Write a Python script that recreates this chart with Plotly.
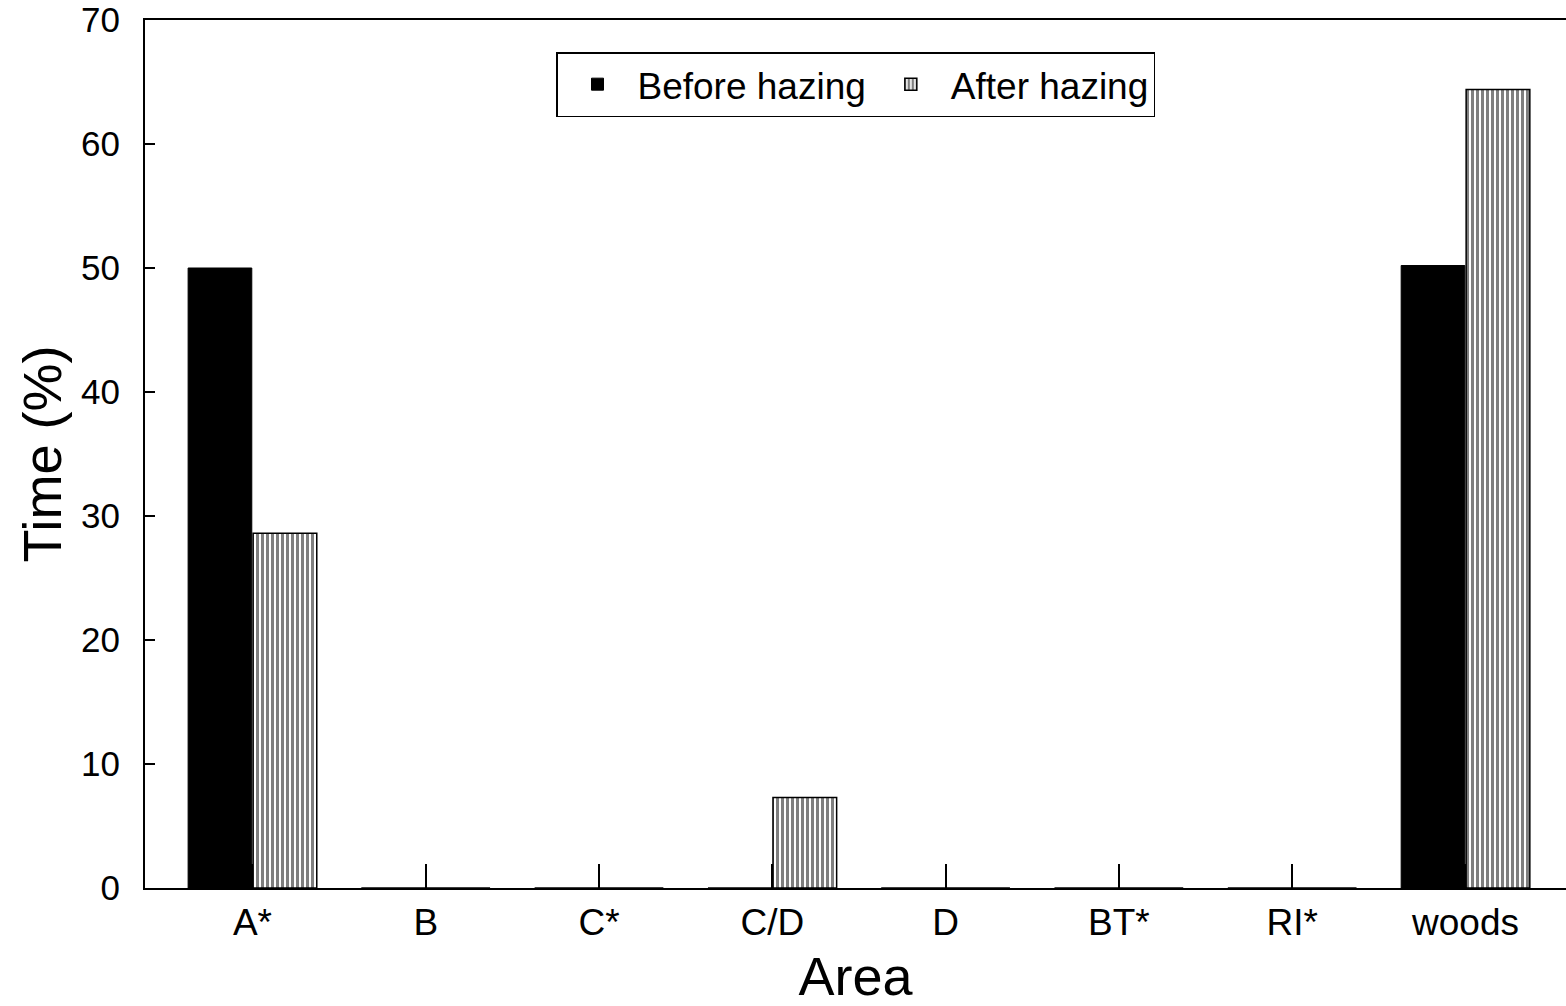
import plotly.graph_objects as go

categories = ["A*", "B", "C*", "C/D", "D", "BT*", "RI*", "woods"]
before_hazing = [50.0, 0, 0, 0, 0, 0, 0, 50.2]
after_hazing = [28.6, 0, 0, 7.3, 0, 0, 0, 64.4]
y_ticks = [0, 10, 20, 30, 40, 50, 60, 70]

FONT = "Liberation Sans, Arial, Helvetica, sans-serif"

fig = go.Figure()
fig.add_trace(go.Bar(
    x=categories, y=before_hazing, name="Before hazing",
    marker=dict(color="black", line=dict(color="black", width=1)),
))
fig.add_trace(go.Bar(
    x=categories, y=after_hazing, name="After hazing",
    marker=dict(color="white", line=dict(color="black", width=1.5),
                pattern=dict(shape="|", fgcolor="black", bgcolor="white",
                             size=5, solidity=0.6)),
))

fig.update_layout(
    width=1566, height=1006,
    margin=dict(l=145, r=0, t=20, b=118),
    plot_bgcolor="white", paper_bgcolor="white",
    barmode="group", bargap=0.25, bargroupgap=0.02,
    font=dict(family=FONT, color="black", size=36),
    showlegend=True,
    legend=dict(
        orientation="h", x=0.5, xanchor="center", y=0.963, yanchor="top",
        bgcolor="white", bordercolor="black", borderwidth=1.5,
        font=dict(size=37, family=FONT), itemwidth=70,
        traceorder="normal",
    ),
    xaxis=dict(
        type="category", range=[-0.62, 7.58],
        showline=True, linecolor="black", linewidth=2, mirror=True,
        ticks="inside", ticklen=24, tickwidth=1.5, tickcolor="black",
        tickfont=dict(size=37), ticklabelstandoff=1, showgrid=False,
        title=dict(text="Area", font=dict(size=54), standoff=22),
    ),
    yaxis=dict(
        range=[0, 70], tickvals=y_ticks,
        showline=True, linecolor="black", linewidth=2, mirror=False,
        ticks="inside", ticklen=10, tickwidth=1.5, tickcolor="black",
        tickfont=dict(size=35), ticklabelstandoff=16, showgrid=False, zeroline=False,
        title=dict(text="Time (%)", font=dict(size=54), standoff=2),
    ),
)

fig.write_html("out.html")
